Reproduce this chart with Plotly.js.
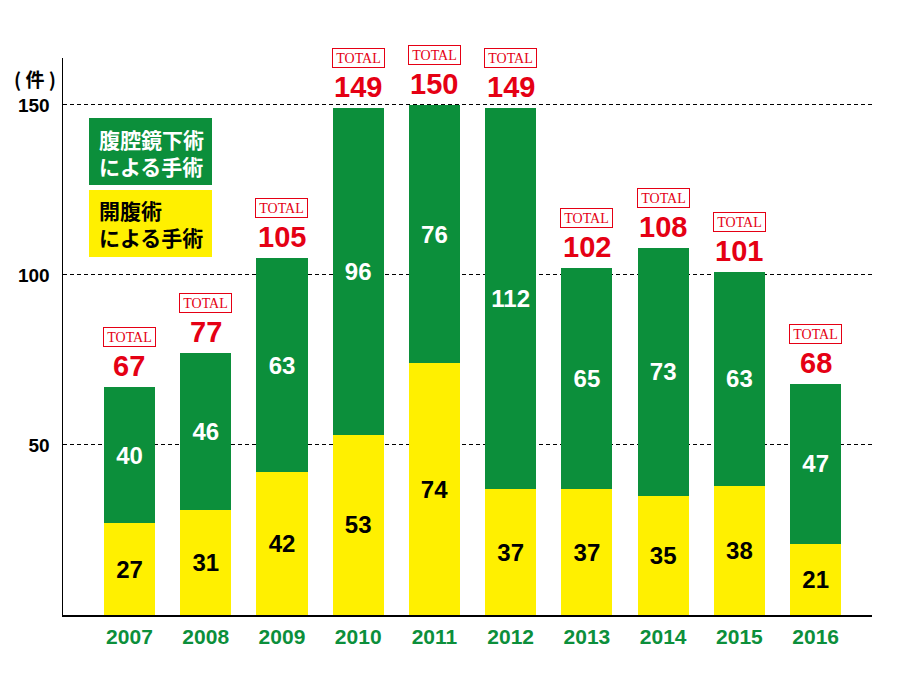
<!DOCTYPE html>
<html>
<head>
<meta charset="utf-8">
<script src="https://cdn.plot.ly/plotly-3.0.1.min.js"></script>
<style>html,body{margin:0;padding:0;background:#fff;}#chart{width:899px;height:690px;}</style>
</head>
<body>
<div id="chart"></div>
<script>
var years = ['2007','2008','2009','2010','2011','2012','2013','2014','2015','2016'];
var openSurgery = [27,31,42,53,74,37,37,35,38,21];
var laparoscopic = [40,46,63,96,76,112,65,73,63,47];
var totals = [67,77,105,149,150,149,102,108,101,68];
var yTicks = [50,100,150];

var GREEN = '#0c8f3b', YELLOW = '#fff000', RED = '#e50014';
var NUM_FONT = '"Liberation Sans", Arial, sans-serif';
var CJK_FONT = '"Noto Sans CJK JP", sans-serif';

var traces = [
  {type:'bar', name:'開腹術による手術', x:years, y:openSurgery, text:openSurgery.map(String),
   textposition:'inside', insidetextanchor:'middle', constraintext:'none',
   textfont:{family:NUM_FONT, size:24, color:'#000', weight:700},
   marker:{color:YELLOW, line:{width:0}}, width:0.67, hoverinfo:'skip'},
  {type:'bar', name:'腹腔鏡下術による手術', x:years, y:laparoscopic, text:laparoscopic.map(String),
   textposition:'inside', insidetextanchor:'middle', constraintext:'none',
   textfont:{family:NUM_FONT, size:24, color:'#fff', weight:700},
   marker:{color:GREEN, line:{width:0}}, width:0.67, hoverinfo:'skip'}
];

var annotations = [];
years.forEach(function(yr, i){
  annotations.push({x:i, y:totals[i], xref:'x', yref:'y', text:String(totals[i]), showarrow:false,
    yanchor:'middle', yshift:21, font:{family:NUM_FONT, size:29, color:RED, weight:700}});
  annotations.push({x:i, y:totals[i], xref:'x', yref:'y', text:'TOTAL', showarrow:false,
    yanchor:'middle', yshift:50, bordercolor:RED, borderwidth:1, borderpad:1, bgcolor:'#fff',
    width:49, height:16, font:{family:'"Liberation Serif", "DejaVu Serif", serif', size:14, color:RED}});
});
// unit label
annotations.push({xref:'paper', yref:'paper', x:-0.035, y:0.964, text:'( 件 )', showarrow:false,
  xanchor:'center', yanchor:'middle', font:{family:CJK_FONT, size:19, color:'#000', weight:700}});
// legend texts
annotations.push({xref:'paper', yref:'paper', x:(97-63)/809, y:(615-152)/557, text:'腹腔鏡下術<br>による手術',
  showarrow:false, xanchor:'left', yanchor:'middle', align:'left',
  font:{family:CJK_FONT, size:21, color:'#fff', weight:700}});
annotations.push({xref:'paper', yref:'paper', x:(97-63)/809, y:(615-224)/557, text:'開腹術<br>による手術',
  showarrow:false, xanchor:'left', yanchor:'middle', align:'left',
  font:{family:CJK_FONT, size:21, color:'#000', weight:700}});

var shapes = [
  {type:'rect', xref:'paper', yref:'paper', x0:(89-63)/809, x1:(212-63)/809, y0:(615-185)/557, y1:(615-118)/557,
   fillcolor:GREEN, line:{width:0}, layer:'above'},
  {type:'rect', xref:'paper', yref:'paper', x0:(89-63)/809, x1:(212-63)/809, y0:(615-257)/557, y1:(615-190)/557,
   fillcolor:YELLOW, line:{width:0}, layer:'above'}
];

var layout = {
  width:899, height:690,
  margin:{l:63, r:27, t:58, b:75, pad:0},
  paper_bgcolor:'#fff', plot_bgcolor:'#fff',
  barmode:'stack', showlegend:false,
  font:{family:NUM_FONT},
  xaxis:{type:'category', range:[-0.872, 9.739], showline:true, linecolor:'#000', linewidth:1.5,
    showgrid:false, zeroline:false, ticks:'', fixedrange:true,
    tickfont:{family:NUM_FONT, size:21, color:GREEN, weight:700}, ticklabelstandoff:2},
  yaxis:{range:[0, 163.8], tickvals:yTicks, ticktext:yTicks.map(String), showline:true, linecolor:'#000', linewidth:1.5,
    showgrid:true, gridcolor:'#000', gridwidth:1, griddash:'4px,3px', zeroline:false, ticks:'',
    tickfont:{family:NUM_FONT, size:19, color:'#000', weight:700}, ticklabelstandoff:8, fixedrange:true},
  annotations:annotations,
  shapes:shapes
};

Plotly.newPlot('chart', traces, layout, {displayModeBar:false, staticPlot:true});
</script>
</body>
</html>
